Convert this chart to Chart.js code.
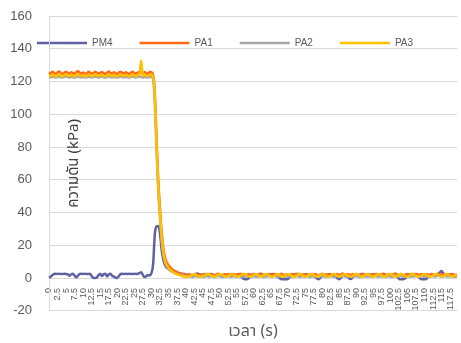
<!DOCTYPE html>
<html>
<head>
<meta charset="utf-8">
<title>ความดัน</title>
<script src="https://cdn.jsdelivr.net/npm/chart.js@4.4.1/dist/chart.umd.min.js"></script>
<style>
  body { margin: 0; background: #fff; }
  #wrap { width: 461px; height: 343px; }
</style>
</head>
<body>
<div id="wrap"><canvas id="pressureChart" width="461" height="343"></canvas></div>
<script>
// time step between samples (s)
const STEP = 0.5;

const tickLabels = ['0', '2.5', '5', '7.5', '10', '12.5', '15', '17.5', '20', '22.5', '25', '27.5',
  '30', '32.5', '35', '37.5', '40', '42.5', '45', '47.5', '50', '52.5', '55', '57.5',
  '60', '62.5', '65', '67.5', '70', '72.5', '75', '77.5', '80', '82.5', '85', '87.5',
  '90', '92.5', '95', '97.5', '100', '102.5', '105', '107.5', '110', '112.5', '115', '117.5'];

const seriesNames = ['PM4', 'PA1', 'PA2', 'PA3'];

const pm4 = [
  0.2, 0.8, 1.8, 2.5, 2.6, 2.5, 2.6, 2.5, 2.5, 2.6,
  2.5, 2.2, 1.4, 2.3, 2.6, 1.5, 0.4, 1.6, 2.5, 2.6,
  2.5, 2.6, 2.5, 2.5, 2.6, 1.2, 0.1, 0.0, 0.3, 1.8,
  2.6, 1.2, 2.4, 2.6, 1.0, 2.2, 2.6, 1.4, 0.9, 0.2,
  0.1, 1.4, 2.5, 2.6, 2.5, 2.6, 2.5, 2.6, 2.5, 2.5,
  2.6, 2.5, 2.6, 3.0, 3.6, 1.8, 0.5, 1.2, 1.8, 1.6,
  3.0, 8.5, 27, 31.5, 31.8, 27.5, 17, 11, 7.8, 6.3,
  5.5, 4.8, 4.3, 3.8, 3.4, 3.0, 2.6, 2.8, 2.4, 2.6,
  2.2, 1.8, 1.4, 1.2, 1.3, 1.9, 2.4, 2.8, 2.3, 1.6,
  1.9, 2.4, 2.1, 1.5, 1.8, 2.5, 2.2, 1.7, 2.0, 2.4,
  2.1, 1.6, 1.9, 2.3, 2.0, 1.7, 2.2, 2.5, 1.8, 1.5,
  2.0, 2.3, 1.6, 0.6, -0.6, -0.8, -0.7, -0.2, 1.2, 2.1,
  2.4, 1.9, 1.6, 2.2, 2.5, 2.0, 1.8, 2.3, 2.1, 1.7,
  2.2, 2.4, 1.9, 1.4, 0.9, 0.0, -0.6, -0.8, -0.7, -0.8,
  -0.5, 0.4, 1.6, 2.3, 2.1, 1.8, 2.4, 2.2, 1.7, 2.0,
  2.3, 1.9, 1.6, 2.2, 2.5, 1.8, 0.8, -0.3, -0.7, 0.2,
  1.4, 2.2, 2.0, 1.7, 2.3, 2.1, 1.8, 2.4, 1.2, -0.2,
  -0.7, 0.1, 1.5, 2.2, 1.9, 1.1, -0.4, -0.6, 0.8, 2.0,
  2.3, 1.8, 2.1, 2.4, 1.9, 1.6, 2.2, 2.0, 1.7, 2.3,
  2.1, 1.8, 2.4, 2.0, 1.6, 2.2, 2.5, 1.9, 1.7, 2.1,
  2.3, 1.9, 2.2, 1.6, 0.7, -0.4, -0.8, -0.7, -0.6, 0.3,
  1.6, 2.2, 1.9, 2.4, 2.1, 1.7, 1.2, 0.2, -0.6, -0.8,
  -0.7, -0.5, 0.6, 1.8, 2.3, 2.0, 1.7, 2.2, 2.6, 3.4,
  4.3, 2.8, 1.9, 2.2, 1.8, 2.1, 2.4, 1.9, 1.6, 2.0
];

const pa1 = [
  125.5, 124.8, 125.9, 125.2, 124.6, 125.7, 126.1, 125.0, 124.7, 125.4,
  126.0, 125.3, 124.8, 125.6, 125.1, 124.6, 125.8, 126.2, 125.3, 124.9,
  125.5, 125.0, 124.7, 125.9, 125.4, 124.8, 125.2, 126.0, 125.5, 124.9,
  125.3, 125.8, 125.0, 124.6, 125.4, 126.1, 125.2, 124.8, 125.6, 125.0,
  124.7, 125.5, 126.0, 125.3, 124.9, 125.7, 125.1, 124.6, 125.4, 125.9,
  125.2, 124.8, 125.5, 126.0, 125.6, 124.9, 125.8, 125.1, 124.7, 125.9,
  125.6, 124.0, 113, 86, 60, 43, 28, 18, 12.5, 9.5,
  7.8, 6.6, 5.6, 4.8, 4.2, 3.7, 3.2, 2.8, 2.5, 2.3,
  2.1, 1.8, 2.4, 2.0, 1.6, 2.2, 2.6, 1.9, 1.7, 2.3,
  2.0, 1.6, 2.5, 2.2, 1.8, 2.4, 1.9, 1.5, 2.1, 2.6,
  2.2, 1.8, 1.6, 2.3, 2.0, 2.5, 1.9, 1.7, 2.4, 2.1,
  1.8, 2.2, 2.6, 2.0, 1.6, 2.3, 1.9, 2.5, 2.1, 1.7,
  2.4, 2.0, 1.8, 2.2, 2.7, 2.1, 1.6, 2.3, 1.9, 2.4,
  2.0, 1.7, 2.5, 2.2, 1.8, 2.0, 2.6, 2.1, 1.7, 2.3,
  2.1, 1.8, 2.4, 1.9, 2.2, 2.6, 2.0, 1.6, 2.3, 2.0,
  1.8, 2.5, 2.1, 1.7, 2.3, 2.0, 2.4, 1.9, 1.6, 2.2,
  2.6, 2.1, 1.8, 2.3, 1.9, 2.5, 2.0, 1.7, 2.2, 2.4,
  1.9, 2.2, 2.7, 2.0, 1.7, 2.3, 2.1, 1.8, 2.5, 2.0,
  2.3, 1.9, 1.6, 2.2, 2.6, 2.0, 1.8, 2.4, 2.1, 1.7,
  2.2, 2.5, 2.0, 1.8, 2.3, 1.9, 2.6, 2.1, 1.7, 2.4,
  2.0, 1.8, 2.3, 2.7, 2.1, 1.9, 2.4, 2.0, 1.6, 2.2,
  2.5, 2.1, 1.8, 2.3, 2.0, 2.6, 2.2, 1.7, 2.4, 1.9,
  2.1, 2.4, 2.0, 1.8, 2.5, 2.2, 1.9, 2.3, 2.7, 2.0,
  1.8, 2.2, 2.5, 2.1, 1.9, 2.4, 2.0, 2.3, 1.8, 2.1
];

const pa2 = [
  122.8, 122.5, 123.0, 122.7, 122.4, 122.9, 123.1, 122.6, 122.5, 122.8,
  123.0, 122.7, 122.4, 122.9, 122.6, 122.3, 122.8, 123.1, 122.7, 122.5,
  122.9, 122.6, 122.4, 123.0, 122.8, 122.5, 122.7, 123.1, 122.8, 122.4,
  122.7, 123.0, 122.6, 122.3, 122.8, 123.1, 122.7, 122.5, 122.9, 122.6,
  122.4, 122.8, 123.1, 122.7, 122.5, 122.9, 122.6, 122.3, 122.8, 123.0,
  122.7, 122.5, 122.9, 123.1, 122.8, 122.4, 122.9, 122.6, 122.5, 122.9,
  122.7, 121.5, 106, 78, 53, 37, 23, 14, 9.5, 7.2,
  5.8, 4.8, 4.0, 3.4, 2.9, 2.5, 2.1, 1.8, 1.6, 1.4,
  1.2, 0.9, 1.3, 1.0, 0.7, 1.1, 1.4, 0.9, 0.8, 1.2,
  1.0, 0.7, 1.3, 1.1, 0.8, 1.2, 0.9, 0.6, 1.0, 1.4,
  1.1, 0.8, 0.7, 1.2, 1.0, 1.3, 0.9, 0.8, 1.2, 1.0,
  0.8, 1.1, 1.4, 1.0, 0.7, 1.2, 0.9, 1.3, 1.0, 0.8,
  1.2, 1.0, 0.8, 1.1, 1.5, 1.0, 0.7, 1.2, 0.9, 1.2,
  1.0, 0.8, 1.3, 1.1, 0.8, 1.0, 1.4, 1.0, 0.7, 1.1,
  1.0, 0.8, 1.2, 0.9, 1.1, 1.4, 1.0, 0.7, 1.2, 1.0,
  0.8, 1.3, 1.0, 0.7, 1.2, 1.0, 1.3, 0.9, 0.7, 1.1,
  1.4, 1.0, 0.8, 1.2, 0.9, 1.3, 1.0, 0.8, 1.1, 1.2,
  0.9, 1.1, 1.5, 1.0, 0.8, 1.2, 1.0, 0.8, 1.3, 1.0,
  1.2, 0.9, 0.7, 1.1, 1.4, 1.0, 0.8, 1.2, 1.0, 0.8,
  1.1, 1.3, 1.0, 0.8, 1.2, 0.9, 1.4, 1.0, 0.8, 1.2,
  1.0, 0.8, 1.2, 1.5, 1.0, 0.9, 1.2, 1.0, 0.7, 1.1,
  1.3, 1.0, 0.8, 1.2, 1.0, 1.4, 1.1, 0.8, 1.2, 0.9,
  1.0, 1.2, 1.0, 0.8, 1.3, 1.1, 0.9, 1.2, 1.5, 1.0,
  0.8, 1.1, 1.3, 1.0, 0.9, 1.2, 1.0, 1.1, 0.8, 1.0
];

const pa3 = [
  123.6, 123.2, 124.3, 123.9, 123.1, 124.0, 124.6, 123.5, 123.0, 123.8,
  124.4, 123.7, 123.2, 124.1, 123.6, 123.0, 124.2, 124.7, 123.8, 123.3,
  123.9, 123.4, 123.1, 124.3, 123.8, 123.2, 123.6, 124.5, 124.0, 123.3,
  123.7, 124.2, 123.5, 123.0, 123.8, 124.6, 123.7, 123.2, 124.1, 123.5,
  123.1, 123.9, 124.4, 123.7, 123.3, 124.1, 123.6, 123.0, 123.8, 124.3,
  123.6, 123.2, 123.9, 124.2, 132.8, 123.4, 124.3, 123.6, 123.2, 124.4,
  124.0, 123.0, 110, 82, 56, 40, 25, 15.5, 10.5, 7.8,
  6.2, 5.0, 4.1, 3.4, 2.8, 2.3, 1.9, 1.5, 1.2, 1.0,
  0.9, 0.8, 1.0, 1.4, 1.9, 2.3, 2.0, 1.4, 1.0, 0.8,
  0.9, 1.5, 2.2, 2.6, 2.1, 1.5, 1.1, 0.9, 1.3, 2.0,
  2.5, 2.2, 1.6, 1.0, 0.8, 1.2, 1.9, 2.4, 2.0, 1.4,
  1.0, 0.9, 1.4, 2.1, 2.6, 2.2, 1.5, 1.0, 0.8, 1.3,
  2.0, 2.4, 1.9, 1.2, 0.9, 1.1, 1.8, 2.5, 2.1, 1.4,
  0.9, 0.8, 1.3, 2.0, 2.4, 1.9, 1.3, 0.9, 1.2, 1.9,
  2.5, 2.2, 1.5, 1.0, 0.8, 1.3, 2.1, 2.6, 2.0, 1.3,
  0.9, 1.0, 1.6, 2.3, 2.5, 1.8, 1.2, 0.9, 1.1, 1.8,
  2.4, 2.1, 1.4, 0.9, 0.8, 1.4, 2.2, 2.5, 1.9, 1.2,
  0.9, 1.1, 1.8, 2.4, 2.2, 1.5, 1.0, 0.8, 1.3, 2.1,
  2.6, 2.0, 1.3, 0.9, 1.0, 1.7, 2.3, 2.4, 1.7, 1.1,
  0.8, 1.2, 1.9, 2.5, 2.1, 1.4, 0.9, 0.9, 1.5, 2.2,
  2.5, 1.9, 1.2, 0.8, 1.1, 1.8, 2.4, 2.2, 1.5, 1.0,
  0.8, 1.3, 2.0, 2.6, 2.1, 1.4, 1.0, 0.9, 1.4, 2.1,
  2.4, 1.9, 1.2, 0.9, 1.0, 1.6, 2.3, 2.5, 1.8, 1.2,
  0.9, 1.2, 1.9, 2.4, 2.0, 1.4, 1.0, 1.1, 1.6, 2.0
];

const seriesColors = ['#5F62A2', '#FF6A13', '#A5A5A5', '#FFC000'];

document.addEventListener('DOMContentLoaded', function () {
  const ctx = document.getElementById('pressureChart').getContext('2d');
  const latin = '"Liberation Sans", Arial, sans-serif';
  const thai = '"Noto Sans Thai", "Leelawadee UI", Tahoma, "Noto Sans", "DejaVu Sans", sans-serif';

  const times = pm4.map((v, i) => i * STEP);
  const values = [pm4, pa1, pa2, pa3];

  // Excel puts the legend over the top of the plot, so move it there after layout
  const legendOverPlot = {
    id: 'legendOverPlot',
    afterLayout(chart) {
      const lg = chart.legend;
      lg.left = 10;
      lg.top = 11;
      lg.bottom = 80;
    }
  };

  new Chart(ctx, {
    type: 'line',
    data: {
      labels: times,
      datasets: seriesNames.map((name, k) => ({
        label: name,
        data: values[k],
        borderColor: seriesColors[k],
        backgroundColor: seriesColors[k],
        borderWidth: 2.5,
        pointRadius: 0,
        cubicInterpolationMode: 'monotone',
        order: 4 - k
      }))
    },
    options: {
      responsive: false,
      animation: false,
      layout: { padding: { left: 10, right: 0, top: 15, bottom: 0 } },
      plugins: {
        tooltip: { enabled: false },
        legend: {
          position: 'top',
          align: 'start',
          maxHeight: 1,
          labels: {
            usePointStyle: true,
            pointStyle: 'line',
            pointStyleWidth: 50,
            padding: 27,
            color: '#595959',
            font: { family: latin, size: 10 },
            sort: (a, b) => a.datasetIndex - b.datasetIndex
          }
        },
        title: {
          display: true,
          text: 'เวลา (s)',
          position: 'bottom',
          fullSize: false,
          color: '#595959',
          font: { family: thai, size: 16, weight: 'normal' },
          padding: { top: 12, bottom: 1 }
        }
      },
      scales: {
        x: {
          position: { y: 0 },
          afterFit: (scale) => { scale.height = 0; },
          grid: { display: false, drawTicks: true, tickLength: 10 },
          border: { color: '#D9D9D9' },
          ticks: {
            autoSkip: false,
            minRotation: 90,
            maxRotation: 90,
            padding: 0,
            color: '#595959',
            font: { family: latin, size: 9 },
            callback: (v, i) => (i % 5 === 0 ? tickLabels[i / 5] : null)
          }
        },
        y: {
          min: -20,
          max: 160,
          afterFit: (scale) => { scale.width = 39; },
          ticks: {
            stepSize: 20,
            padding: 0,
            color: '#595959',
            font: { family: latin, size: 13 }
          },
          grid: { color: '#D9D9D9', drawTicks: true, tickLength: 17, tickColor: 'rgba(0,0,0,0)' },
          border: { color: '#D9D9D9' },
          title: {
            display: true,
            text: 'ความดัน (kPa)',
            color: '#404040',
            font: { family: thai, size: 15 },
            padding: { top: 56, bottom: -74 }
          }
        }
      }
    },
    plugins: [legendOverPlot]
  });
});
</script>
</body>
</html>
